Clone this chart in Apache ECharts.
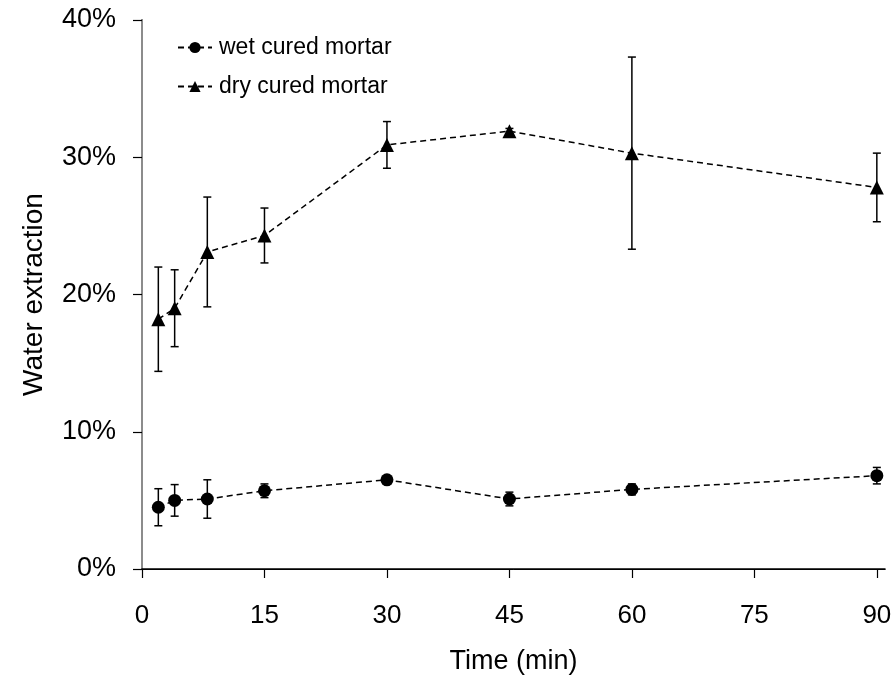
<!DOCTYPE html>
<html>
<head>
<meta charset="utf-8">
<script src="https://cdn.jsdelivr.net/npm/echarts@6/dist/echarts.min.js"></script>
<style>
  html, body { margin: 0; padding: 0; background: #fff; }
  #main { width: 896px; height: 687px; }
</style>
</head>
<body>
<div id="main"></div>
<script>
// time points (min)
const times = [2, 4, 8, 15, 30, 45, 60, 90]
// water extraction (%) and error bar half-widths
const wetValues = [4.5, 5.0, 5.1, 5.7, 6.5, 5.1, 5.8, 6.8]
const wetErrors = [1.35, 1.15, 1.4, 0.5, 0.2, 0.5, 0.4, 0.6]
const dryValues = [18.2, 19.0, 23.1, 24.3, 30.9, 31.9, 30.3, 27.8]
const dryErrors = [3.8, 2.8, 4.0, 2.0, 1.7, 0.2, 7.0, 2.5]
const xTicks = [0, 15, 30, 45, 60, 75, 90]

const font = 'Liberation Sans, Arial, sans-serif'

function points(values) {
  return times.map((t, i) => [t, values[i]])
}
function errorData(values, errors) {
  return times.map((t, i) => [t, values[i] - errors[i], values[i] + errors[i]])
}

// draws a vertical error bar with small caps
function renderErrorBar(params, api) {
  const lo = api.coord([api.value(0), api.value(1)])
  const hi = api.coord([api.value(0), api.value(2)])
  const cap = 4
  const style = { stroke: '#000', lineWidth: 1.5 }
  return {
    type: 'group',
    children: [
      { type: 'line', shape: { x1: lo[0], y1: lo[1], x2: hi[0], y2: hi[1] }, style },
      { type: 'line', shape: { x1: lo[0] - cap, y1: lo[1], x2: lo[0] + cap, y2: lo[1] }, style },
      { type: 'line', shape: { x1: hi[0] - cap, y1: hi[1], x2: hi[0] + cap, y2: hi[1] }, style }
    ]
  }
}

const chart = echarts.init(document.getElementById('main'))

const option = {
  animation: false,
  backgroundColor: '#fff',
  textStyle: { fontFamily: font, color: '#000' },
  grid: { left: 142, right: 11, top: 20, bottom: 118 },
  legend: {
    data: ['wet cured mortar', 'dry cured mortar'],
    orient: 'vertical',
    left: 172,
    top: 31,
    itemWidth: 34,
    itemHeight: 14,
    itemGap: 16,
    textStyle: { fontFamily: font, fontSize: 23, color: '#000', padding: [0, 0, 0, 2] }
  },
  xAxis: [
    {
      type: 'value',
      min: 0,
      max: 91,
      name: 'Time (min)',
      nameLocation: 'middle',
      nameGap: 79,
      nameTextStyle: { fontFamily: font, fontSize: 27, color: '#000' },
      axisLine: { lineStyle: { color: '#000', width: 1.5 } },
      axisTick: { show: true, length: 9, inside: false, customValues: xTicks, lineStyle: { color: '#000', width: 1.2 } },
      axisLabel: { customValues: xTicks, margin: 34, fontFamily: font, fontSize: 26, color: '#000' },
      splitLine: { show: false }
    },
    {
      type: 'value',
      position: 'top',
      min: 0,
      max: 91,
      axisLine: { show: true, lineStyle: { color: '#000', width: 1 } },
      axisTick: { show: false },
      axisLabel: { show: false },
      splitLine: { show: false }
    }
  ],
  yAxis: [
    {
      type: 'value',
      min: 0,
      max: 40,
      interval: 10,
      name: 'Water extraction',
      nameLocation: 'middle',
      nameGap: 94,
      nameTextStyle: { fontFamily: font, fontSize: 28, color: '#000' },
      axisLine: { show: true, lineStyle: { color: '#000', width: 1.5 } },
      axisTick: { show: true, length: 9, lineStyle: { color: '#000', width: 1.2 } },
      axisLabel: { formatter: '{value}%', margin: 26, fontFamily: font, fontSize: 27, color: '#000' },
      splitLine: { show: false }
    },
    {
      type: 'value',
      position: 'right',
      min: 0,
      max: 40,
      axisLine: { show: true, lineStyle: { color: '#8c8c8c', width: 2 } },
      axisTick: { show: false },
      axisLabel: { show: false },
      splitLine: { show: false }
    }
  ],
  series: [
    {
      name: 'wet cured mortar',
      type: 'line',
      data: points(wetValues),
      symbol: 'circle',
      symbolSize: 13,
      itemStyle: { color: '#000' },
      lineStyle: { color: '#000', width: 1.5, type: [6, 4] },
      z: 3
    },
    {
      name: 'dry cured mortar',
      type: 'line',
      data: points(dryValues),
      symbol: 'triangle',
      symbolSize: 14,
      itemStyle: { color: '#000' },
      lineStyle: { color: '#000', width: 1.5, type: [6, 4] },
      z: 3
    },
    {
      name: 'wet error',
      type: 'custom',
      renderItem: renderErrorBar,
      data: errorData(wetValues, wetErrors),
      encode: { x: 0, y: [1, 2] },
      z: 2
    },
    {
      name: 'dry error',
      type: 'custom',
      renderItem: renderErrorBar,
      data: errorData(dryValues, dryErrors),
      encode: { x: 0, y: [1, 2] },
      z: 2
    }
  ]
}

option && chart.setOption(option)
</script>
</body>
</html>
